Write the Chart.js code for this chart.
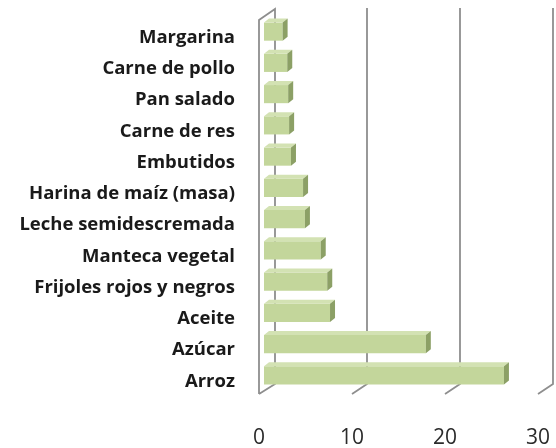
<!DOCTYPE html>
<html>
<head>
<meta charset="utf-8">
<script src="https://cdn.jsdelivr.net/npm/chart.js@4.4.0/dist/chart.umd.min.js"></script>
<style>
  html, body { margin: 0; padding: 0; background: #fff; }
  #wrap { width: 556px; height: 448px; }
</style>
</head>
<body>
<div id="wrap"><canvas id="grafico" width="556" height="448"></canvas></div>
<script>
var alimentos = ['Margarina', 'Carne de pollo', 'Pan salado', 'Carne de res', 'Embutidos',
	'Harina de maíz (masa)', 'Leche semidescremada', 'Manteca vegetal',
	'Frijoles rojos y negros', 'Aceite', 'Azúcar', 'Arroz'];
var valores = [2.0, 2.5, 2.6, 2.7, 2.9, 4.2, 4.4, 6.1, 6.8, 7.1, 17.4, 25.8];
var ticksX = [0, 10, 20, 30];

// profundidade do efeito 3D
var PROF_X = 5, PROF_Y = -4;

var paredes3d = {
	id: 'paredes3d',
	beforeDatasetsDraw: function(chart) {
		var ctx = chart.ctx;
		var x = chart.scales.x;
		var area = chart.chartArea;
		var frente = area.bottom + 3;
		var fundo = area.bottom - 7;
		ctx.save();
		ctx.strokeStyle = '#8e8e8e';
		ctx.lineWidth = 1.8;
		ticksX.forEach(function(v) {
			var px = x.getPixelForValue(v);
			ctx.beginPath();
			if (v === 0) {
				// parede esquerda
				ctx.moveTo(px - 5, frente);
				ctx.lineTo(px - 5, area.top + 4);
				ctx.lineTo(px + 11, area.top - 7);
				ctx.lineTo(px + 11, fundo);
				ctx.lineTo(px - 5, frente);
			} else {
				ctx.moveTo(px + 10, area.top - 8);
				ctx.lineTo(px + 10, fundo);
				ctx.lineTo(px - 5, frente);
			}
			ctx.stroke();
		});
		ctx.restore();
	},
	afterDatasetsDraw: function(chart) {
		var ctx = chart.ctx;
		var barras = chart.getDatasetMeta(0).data;
		ctx.save();
		barras.forEach(function(b) {
			var topo = b.y - b.height / 2;
			var baixo = b.y + b.height / 2;
			ctx.fillStyle = '#d3e2b3';
			ctx.beginPath();
			ctx.moveTo(b.base, topo);
			ctx.lineTo(b.x, topo);
			ctx.lineTo(b.x + PROF_X, topo + PROF_Y);
			ctx.lineTo(b.base + PROF_X, topo + PROF_Y);
			ctx.closePath();
			ctx.fill();
			ctx.fillStyle = '#8ca066';
			ctx.beginPath();
			ctx.moveTo(b.x, topo);
			ctx.lineTo(b.x + PROF_X, topo + PROF_Y);
			ctx.lineTo(b.x + PROF_X, baixo + PROF_Y);
			ctx.lineTo(b.x, baixo);
			ctx.closePath();
			ctx.fill();
		});
		ctx.restore();
	}
};

var grafico = new Chart(document.getElementById('grafico').getContext('2d'), {
	type: 'bar',
	data: {
		labels: alimentos,
		datasets: [{
			data: valores,
			backgroundColor: '#c3d69b',
			borderWidth: 0,
			barPercentage: 0.58,
			categoryPercentage: 1
		}]
	},
	options: {
		indexAxis: 'y',
		responsive: false,
		animation: false,
		layout: { padding: { top: 16, right: 13, left: 0, bottom: 0 } },
		plugins: {
			legend: { display: false },
			tooltip: { enabled: false }
		},
		scales: {
			x: {
				min: 0,
				max: 30,
				border: { display: false },
				grid: { display: false, drawTicks: false },
				afterFit: function(s) {
					s.height = 57;
					s.paddingLeft = 0;
					s.paddingRight = 0;
				},
				ticks: {
					stepSize: 10,
					padding: 34,
					labelOffset: -5,
					maxRotation: 0,
					color: '#2b2b2b',
					font: { family: 'Open Sans', size: 21 }
				}
			},
			y: {
				border: { display: false },
				grid: { display: false, drawTicks: false },
				afterFit: function(s) {
					s.width = 264;
					s.paddingTop = 0;
					s.paddingBottom = 0;
				},
				ticks: {
					padding: 29,
					labelOffset: 6,
					autoSkip: false,
					color: '#1a1a1a',
					font: { family: 'Open Sans', size: 18.5, weight: 'bold' }
				}
			}
		}
	},
	plugins: [paredes3d]
});
</script>
</body>
</html>
